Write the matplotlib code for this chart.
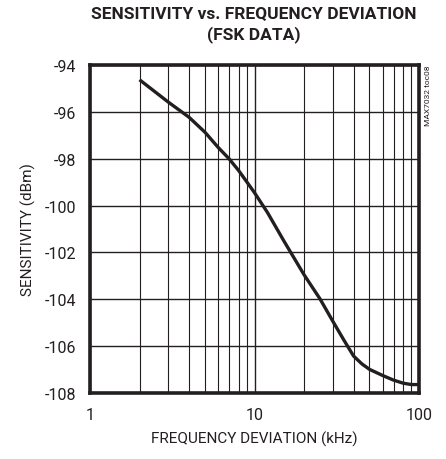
import matplotlib
matplotlib.use("Agg")
import matplotlib.pyplot as plt
from matplotlib.ticker import FixedLocator, NullFormatter

# valeurs
freq_khz = [2, 3, 4, 5, 6, 7, 8, 9, 10, 12, 15, 20, 25, 30, 35, 40, 45, 50, 60, 70, 80, 90, 100]
sens_dbm = [-94.63, -95.59, -96.23, -96.87, -97.51, -98.0, -98.5, -99.0, -99.45,
            -100.3, -101.48, -102.95, -103.98, -104.95, -105.75, -106.42, -106.76,
            -106.99, -107.25, -107.45, -107.58, -107.64, -107.64]

x_ticks = [1, 10, 100]
x_tick_labels = ["1", "10", "100"]
y_ticks = [-94, -96, -98, -100, -102, -104, -106, -108]

plt.rcParams['font.family'] = ['Roboto', 'DejaVu Sans']

fig = plt.figure(figsize=(4.46, 4.60), dpi=100)
ax = fig.add_axes([90 / 446, 1 - 394 / 460, 329 / 446, 328 / 460])

ax.plot(freq_khz, sens_dbm, color='#231f20', lw=2.4, solid_capstyle='butt',
        solid_joinstyle='round', zorder=3)

ax.set_xscale('log')
ax.set_xlim(1, 100)
ax.set_ylim(-108, -94)

minor = [m * d for d in (1, 10) for m in range(2, 10)]
ax.xaxis.set_major_locator(FixedLocator(x_ticks))
ax.xaxis.set_minor_locator(FixedLocator(minor))
ax.xaxis.set_minor_formatter(NullFormatter())
ax.set_xticklabels(x_tick_labels)
ax.set_yticks(y_ticks)
ax.set_yticklabels([str(v) for v in y_ticks])

ax.grid(True, which='major', axis='both', color='#231f20', lw=1.0)
ax.grid(True, which='minor', axis='x', color='#231f20', lw=0.8)
ax.tick_params(which='both', length=0, labelsize=11.5, colors='#231f20', pad=10)

for s in ax.spines.values():
    s.set_linewidth(2.6)
    s.set_color('#231f20')

ax.set_xlabel('FREQUENCY DEVIATION (kHz)', fontsize=11, color='#231f20', labelpad=6)
ax.set_ylabel('SENSITIVITY (dBm)', fontsize=11, color='#231f20', labelpad=6)

fig.text(254 / 446, 1 - 6 / 460, 'SENSITIVITY vs. FREQUENCY DEVIATION\n(FSK DATA)',
         ha='center', va='top', fontsize=12.5, fontweight='bold', color='#231f20',
         linespacing=1.35)
fig.text(428 / 446, 1 - 66 / 460, 'MAX7032 toc08', rotation=90, ha='center', va='top',
         fontsize=6, color='#231f20')

fig.savefig('out.png', dpi=100)
